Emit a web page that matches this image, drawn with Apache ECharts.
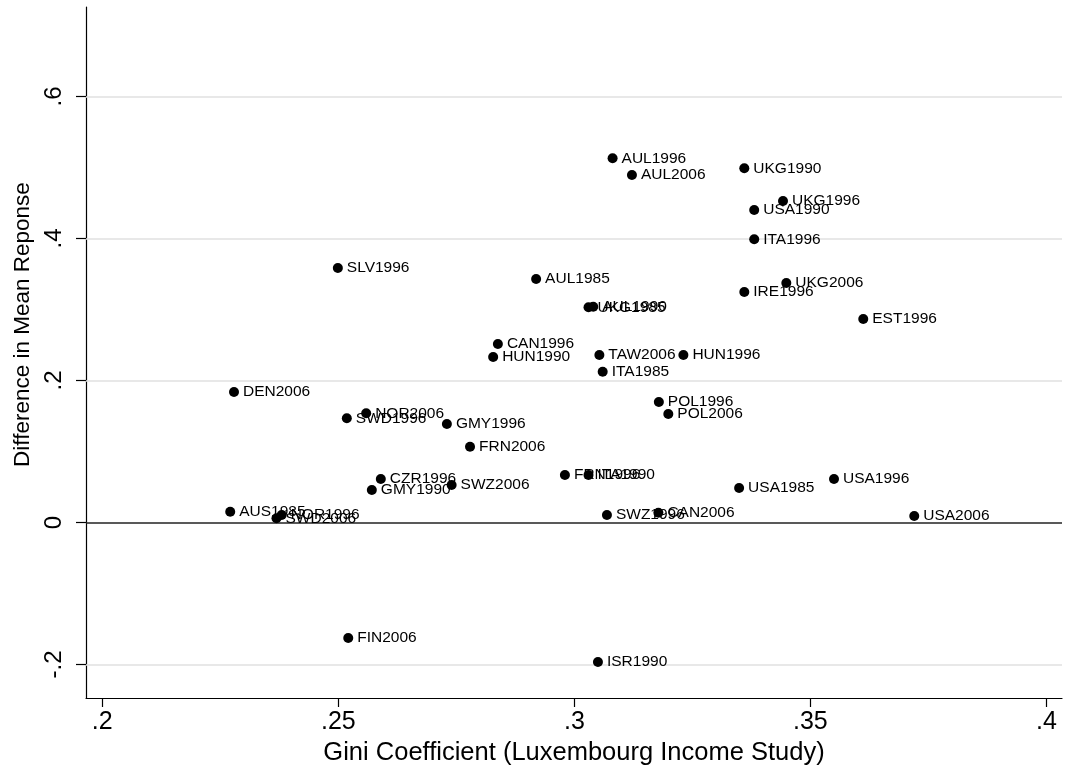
<!DOCTYPE html>
<html>
<head>
<meta charset="utf-8">
<script src="https://cdn.jsdelivr.net/npm/echarts@6/dist/echarts.min.js"></script>
<style>
  html, body { margin: 0; padding: 0; background: #ffffff; }
  #chart { width: 1066px; height: 776px; }
</style>
</head>
<body>
<div id="chart"></div>
<script>
// Country-year samples: inequality (LIS Gini) vs. difference in mean response
const countries = [
  'AUL1996', 'AUL2006', 'UKG1990', 'UKG1996', 'USA1990', 'ITA1996',
  'SLV1996', 'AUL1985', 'UKG2006', 'IRE1996', 'UKG1985', 'AUL1990',
  'EST1996', 'CAN1996', 'HUN1990', 'TAW2006', 'HUN1996', 'ITA1985',
  'DEN2006', 'POL1996', 'POL2006', 'NOR2006', 'SWD1996', 'GMY1996',
  'FRN2006', 'CZR1996', 'GMY1990', 'SWZ2006', 'FRN1996', 'ITA1990',
  'USA1985', 'USA1996', 'AUS1985', 'NOR1996', 'SWD2006', 'SWZ1996',
  'CAN2006', 'USA2006', 'FIN2006', 'ISR1990'
];
const gini = [
  0.3081, 0.3122, 0.3360, 0.3442, 0.3381, 0.3381,
  0.2499, 0.2919, 0.3449, 0.3360, 0.3030, 0.3040,
  0.3612, 0.2838, 0.2828, 0.3053, 0.3231, 0.3060,
  0.2279, 0.3179, 0.3199, 0.2559, 0.2518, 0.2730,
  0.2779, 0.2590, 0.2571, 0.2740, 0.2980, 0.3030,
  0.3349, 0.3550, 0.2271, 0.2380, 0.2369, 0.3069,
  0.3178, 0.3720, 0.2521, 0.3050
];
const diffMean = [
  0.5130, 0.4894, 0.4989, 0.4528, 0.4401, 0.3989,
  0.3585, 0.3430, 0.3373, 0.3246, 0.3031, 0.3039,
  0.2866, 0.2514, 0.2331, 0.2359, 0.2359, 0.2124,
  0.1838, 0.1697, 0.1528, 0.1538, 0.1468, 0.1387,
  0.1068, 0.0613, 0.0458, 0.0528, 0.0669, 0.0669,
  0.0486, 0.0613, 0.0152, 0.0106, 0.0059, 0.0106,
  0.0138, 0.0092, -0.1627, -0.1965
];
const xTicks = [0.2, 0.25, 0.3, 0.35, 0.4];
const yTicks = [-0.2, 0, 0.2, 0.4, 0.6];
const yGridLines = [-0.2, 0.2, 0.4, 0.6];

const FONT = '"Liberation Sans", Arial, Helvetica, sans-serif';

// Stata-style number format: .25, -.2, 0
function fmt(v) {
  const s = String(+(+v).toFixed(3));
  return s.replace(/^(-?)0\./, '$1.');
}

const points = countries.map((c, i) => [gini[i], diffMean[i], c]);

const chart = echarts.init(document.getElementById('chart'), null, { renderer: 'canvas' });

chart.setOption({
  backgroundColor: '#ffffff',
  animation: false,
  grid: { left: 86, right: 4, top: 7, bottom: 78, containLabel: false },
  xAxis: {
    type: 'value',
    min: 0.19655,
    max: 0.4033,
    name: 'Gini Coefficient (Luxembourg Income Study)',
    nameLocation: 'middle',
    nameGap: 42,
    nameTextStyle: { fontFamily: FONT, fontSize: 25.5, color: '#000' },
    axisLine: { onZero: false, lineStyle: { color: '#000', width: 1.2 } },
    axisTick: { show: true, length: 9, customValues: xTicks, lineStyle: { color: '#000', width: 1.2 } },
    axisLabel: {
      customValues: xTicks, formatter: fmt, margin: 12,
      fontFamily: FONT, fontSize: 25, color: '#000'
    },
    splitLine: { show: false }
  },
  yAxis: {
    type: 'value',
    min: -0.2472,
    max: 0.7261,
    name: 'Difference in Mean Reponse',
    nameLocation: 'middle',
    nameGap: 46,
    nameTextStyle: { fontFamily: FONT, fontSize: 22.5, color: '#000', padding: [0, 0, 0, 56] },
    axisLine: { onZero: false, lineStyle: { color: '#000', width: 1.2 } },
    axisTick: { show: true, length: 10, customValues: yTicks, lineStyle: { color: '#000', width: 1.2 } },
    axisLabel: {
      customValues: yTicks, formatter: fmt, rotate: 90, margin: 20,
      fontFamily: FONT, fontSize: 24, color: '#000'
    },
    splitLine: { show: false }
  },
  series: [
    {
      // reference lines behind the markers
      type: 'scatter',
      data: [],
      z: 1,
      silent: true,
      markLine: {
        silent: true,
        symbol: 'none',
        label: { show: false },
        data: yGridLines.map(v => ({ yAxis: v, lineStyle: { color: '#e0e0e0', width: 1.6, type: 'solid' } }))
          .concat([{ yAxis: 0, lineStyle: { color: '#222', width: 1.6, type: 'solid' } }])
      }
    },
    {
      type: 'scatter',
      z: 5,
      symbol: 'circle',
      symbolSize: 10,
      itemStyle: { color: '#000', opacity: 1 },
      label: {
        show: true,
        position: 'right',
        distance: 4,
        formatter: p => p.data[2],
        fontFamily: FONT,
        fontSize: 15.5,
        color: '#000'
      },
      labelLayout: { hideOverlap: false },
      emphasis: { disabled: true },
      data: points
    }
  ]
});
</script>
</body>
</html>
